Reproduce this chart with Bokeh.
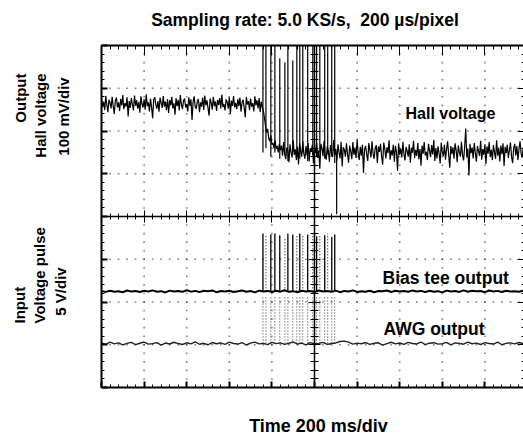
import numpy as np
from bokeh.plotting import figure
from bokeh.models import Range1d, LinearAxis, SingleIntervalTicker, CustomJSTickFormatter
from bokeh.core.properties import value
from bokeh.embed import file_html
from bokeh.resources import INLINE

# ---------------- data ----------------
# time axis: 200 ms/div, 10 divisions; Hall channel 100 mV/div, pulse channel 5 V/div
hall_step_ms = 5
hall_mv = [
    276, 256, 269, 249, 282, 261, 244, 273, 266, 253, 280, 258, 240, 271, 278, 255, 267, 247, 275, 260,
    284, 251, 265, 257, 279, 234, 270, 254, 277, 262, 248, 283, 259, 272, 252, 268, 243, 281, 263, 255,
    274, 250, 286, 258, 267, 246, 276, 256, 230, 273, 279, 261, 252, 270, 245, 278, 266, 254, 282, 257,
    269, 249, 275, 242, 272, 260, 280, 253, 265, 238, 277, 258, 273, 248, 284, 262, 251, 271, 276, 255,
    263, 246, 279, 259, 274, 226, 268, 281, 256, 252, 270, 275, 244, 267, 257, 278, 249, 283, 260, 272,
    254, 236, 276, 266, 250, 280, 258, 269, 247, 273, 261, 277, 253, 285, 256, 263, 248, 274, 268, 252,
    279, 240, 271, 259, 282, 255, 266, 251, 275, 258, 278, 245, 267, 273, 254, 232, 280, 262, 270, 249,
    276, 257, 265, 246, 281, 260, 272, 253, 277, 244, 269, 255,
    248, 230, 212, 196, 205, 183, 176, 190, 168, 172, 160, 178, 158, 165, 150, 170, 155,
    166, 142, 174, 146, 134, 161, 155, 127, 169, 150, 138, 178, 144, 157, 132, 163, 122, 171, 153, 140,
    176, 147, 135, 165, 143, 172, 129, 159, 151, 168, 124, 162, 148, 173, 137, 155, 112, 170, 160, 141,
    177, 145, 133, 164, 154, 128, 167, 149, 139, 179, 143, 158, 131, 169, 150, 136, 175, 117, 162, 156,
    140, 171, 146, 126, 166, 153, 134, 174, 144, 161, 137, 180, 149, 132, 163, 142, 168, 102, 157, 165,
    145, 130, 172, 154, 138, 176, 147, 135, 160, 167, 125, 164, 151, 170, 141, 121, 173, 158, 136, 162,
    148, 178, 133, 155, 143, 168, 128, 165, 150, 107, 171, 144, 159, 138, 175, 146, 131, 163, 153, 140,
    169, 126, 161, 149, 177, 137, 156, 142, 172, 134, 158, 119, 166, 147, 174, 143, 151, 132, 170, 154,
    139, 167, 145, 179, 130, 160, 136, 164, 148, 124, 173, 150, 141, 168, 133, 157, 176, 144, 114, 165,
    146, 162, 135, 171, 155, 127, 166, 151, 140, 175, 143, 131, 163, 206, 138, 159, 96, 170, 148, 161,
    136, 172, 149, 128, 165, 153, 142, 177, 133, 158, 144, 169, 123, 164, 147, 174, 139, 156, 132, 167,
    150, 135, 178, 142, 161, 129, 166, 146, 171, 118, 163, 148, 168, 137, 155, 173, 140, 125, 160, 170,
    143, 165, 132, 158, 176, 147, 138, 162, 151, 169, 141, 160,
]

pulse_step_ms = 20
bias_tee_v = [
    -8.70, -8.82, -8.68, -8.79, -8.74, -8.86, -8.66, -8.77, -8.71, -8.83,
    -8.69, -8.78, -8.64, -8.80, -8.73, -8.88, -8.67, -8.76, -8.72, -8.81,
    -8.62, -8.79, -8.70, -8.84, -8.68, -8.75, -8.66, -8.85, -8.71, -8.78,
    -8.69, -8.82, -8.74, -8.65, -8.80, -8.72, -8.87, -8.67, -8.77, -8.70,
    -8.83, -8.68, -8.79, -8.63, -8.81, -8.73, -8.86, -8.69, -8.76, -8.71,
    -8.84, -8.66, -8.78, -8.72, -8.80, -8.67, -8.85, -8.70, -8.77, -8.64,
    -8.82, -8.73, -8.79, -8.68, -8.86, -8.71, -8.75, -8.66, -8.83, -8.69,
    -8.78, -8.72, -8.81, -8.65, -8.77, -8.70, -8.84, -8.68, -8.79, -8.73,
    -8.87, -8.67, -8.76, -8.71, -8.82, -8.64, -8.80, -8.69, -8.75, -8.72,
    -8.85, -8.66, -8.78, -8.70, -8.83, -8.68, -8.77, -8.73, -8.81, -8.67,
    -8.76,
]
awg_v = [
    -14.80, -14.95, -14.70, -14.90, -14.78, -15.02, -14.84, -14.72, -14.98, -14.82,
    -14.68, -14.93, -14.87, -14.75, -15.05, -14.80, -14.91, -14.71, -14.86, -14.97,
    -14.77, -14.89, -14.66, -14.94, -14.83, -15.00, -14.74, -14.88, -14.79, -14.96,
    -14.70, -14.85, -14.92, -14.76, -15.03, -14.81, -14.69, -14.90, -14.84, -14.99,
    -14.73, -14.87, -14.78, -14.95, -14.82, -14.67, -14.93, -14.80, -15.01, -14.75,
    -14.89, -14.84, -14.72, -14.97, -14.86, -14.79, -14.62, -14.58, -14.70, -14.92,
    -14.81, -14.88, -14.74, -14.95, -14.83, -14.77, -15.04, -14.86, -14.71, -14.90,
    -14.80, -14.96, -14.73, -14.85, -14.91, -14.68, -14.99, -14.82, -14.76, -14.93,
    -14.87, -14.72, -15.02, -14.79, -14.84, -14.94, -14.70, -14.88, -14.81, -14.97,
    -14.75, -14.86, -14.92, -14.69, -15.00, -14.83, -14.78, -14.90, -14.74, -14.87,
    -14.82,
]

# pulse burst
spike_ms = [758, 772, 795, 814, 837, 861, 875, 898, 917, 931, 945, 968, 992, 1010, 1025, 1048, 1062, 1081, 1095]
hall_spike_top_mv = [400, 400, 400, 400, 370, 360, 400, 365, 400, 400, 400, 400, 400, 400, 400, 400, 400, 400, 400]
hall_spike_bottom_mv = [150, 160, 140, 150, 135, 145, 130, 150, 140, 135, 150, 130, 145, 140, 150, 135, 145, 140, 125]
bias_spike_top_v = [-2.0, -2.3, -2.1, -2.0, -2.2, -2.4, -2.0, -2.1, -2.3, -2.0, -2.2, -2.1, -2.0, -2.3, -2.1, -2.2, -2.0, -2.4, -2.1]
bias_spike_solid = [1, 0, 1, 1, 1, 0, 1, 1, 0, 1, 0, 1, 0, 1, 0, 1, 0, 1, 1]
bias_base_v = -8.75
awg_spike_top_v = [-9.3, -9.4, -9.35, -9.3, -9.45, -9.35, -9.3, -9.4, -9.35, -9.3, -9.4, -9.35, -9.3, -9.45, -9.35, -9.3, -9.4, -9.35, -9.3]
awg_base_v = -14.85
glitch_ms = [1104]
glitch_top_mv = [143]
glitch_bottom_mv = [5]

# scope graticule: 10 x 8 divisions
n_div_x, n_div_y = 10, 8
ms_per_div, v_per_div, mv_per_div = 200, 5, 100

# ---------------- geometry (pixels) ----------------
W, H = 523, 446
LEFT, TOP = 101, 45          # screen frame top-left corner in the picture
DIVX, DIVY = 42.6, 42.75     # pixels per division
CY = TOP + DIVY * n_div_y / 2


def sx(px):  # pixel -> ms
    return (px - LEFT) * ms_per_div / DIVX


def sy(py):  # pixel -> V on pulse channel
    return (CY - py) * v_per_div / DIVY


p = figure(width=W, height=H, output_backend="svg", toolbar_location=None,
           x_range=Range1d(sx(0), sx(W)), y_range=Range1d(sy(H), sy(0)),
           x_axis_location=None, y_axis_location=None,
           min_border=0, min_border_left=0, min_border_right=0, min_border_top=0, min_border_bottom=0,
           outline_line_color=None, background_fill_color="white", border_fill_color="white")
p.extra_y_ranges = {"hall": Range1d(sy(H) * mv_per_div / v_per_div, sy(0) * mv_per_div / v_per_div)}
p.grid.visible = False

t_end = n_div_x * ms_per_div
v_top = n_div_y / 2 * v_per_div

# graticule dots along the division lines
major_x = np.arange(1, n_div_x) * ms_per_div
major_y = (np.arange(1, n_div_y) - n_div_y / 2) * v_per_div
minor_x = np.arange(0, n_div_x * 5 + 1) * ms_per_div / 5
minor_y = np.arange(-n_div_y * 5 // 2, n_div_y * 5 // 2 + 1) * v_per_div / 5
gx1, gy1 = np.meshgrid(major_x, minor_y)
gx2, gy2 = np.meshgrid(minor_x, major_y)
p.scatter(np.concatenate([gx1.ravel(), gx2.ravel()]), np.concatenate([gy1.ravel(), gy2.ravel()]),
          marker="square", size=1.6, line_width=0, fill_color="black", fill_alpha=0.5)

hall_t = np.arange(len(hall_mv)) * hall_step_ms
pulse_t = np.arange(len(bias_tee_v)) * pulse_step_ms

# traces
p.line(hall_t, hall_mv, y_range_name="hall", line_color="black", line_width=1.2)
p.line(pulse_t, bias_tee_v, line_color="black", line_width=2)
p.line(pulse_t, awg_v, line_color="#222222", line_width=1.4)

# burst spikes
p.segment(x0=spike_ms, y0=hall_spike_bottom_mv, x1=spike_ms, y1=hall_spike_top_mv,
          y_range_name="hall", line_color="black", line_width=1.2)
p.segment(x0=glitch_ms, y0=glitch_bottom_mv, x1=glitch_ms, y1=glitch_top_mv,
          y_range_name="hall", line_color="black", line_width=1.2)
solid_t = [t for t, s in zip(spike_ms, bias_spike_solid) if s]
solid_top = [v for v, s in zip(bias_spike_top_v, bias_spike_solid) if s]
dot_t = [t for t, s in zip(spike_ms, bias_spike_solid) if not s]
dot_top = [v for v, s in zip(bias_spike_top_v, bias_spike_solid) if not s]
p.segment(x0=solid_t, y0=[bias_base_v] * len(solid_t), x1=solid_t, y1=solid_top,
          line_color="black", line_width=1.3)
p.segment(x0=dot_t, y0=[bias_base_v] * len(dot_t), x1=dot_t, y1=dot_top,
          line_color="black", line_width=1, line_dash="1 2")
p.segment(x0=spike_ms, y0=[awg_base_v] * len(spike_ms), x1=spike_ms, y1=awg_spike_top_v,
          line_color="#333333", line_width=1, line_dash="1 2")


# ---------------- graticule frame and centre cross (axes at fixed locations) ----------------
def xt():
    return SingleIntervalTicker(interval=ms_per_div, num_minor_ticks=5)


def yt():
    return SingleIntervalTicker(interval=v_per_div, num_minor_ticks=5)


def mk_axis(ticker, **kw):
    ax = LinearAxis(ticker=ticker, formatter=CustomJSTickFormatter(code="return ''"),
                    major_label_text_font_size="0px", major_label_standoff=0,
                    major_tick_out=0, minor_tick_out=0, axis_line_color="black",
                    major_tick_line_color="black", minor_tick_line_color="black")
    for k, v in kw.items():
        setattr(ax, k, v)
    return ax


p.add_layout(mk_axis(xt(), fixed_location=v_top, bounds=(0, t_end), major_tick_in=10, minor_tick_in=4,
                     axis_line_width=2), "above")
p.add_layout(mk_axis(xt(), fixed_location=-v_top, bounds=(0, t_end), major_tick_in=6, minor_tick_in=3,
                     axis_line_width=2, major_tick_line_width=2), "below")
p.add_layout(mk_axis(yt(), fixed_location=0, bounds=(-v_top, v_top), major_tick_in=6, minor_tick_in=3,
                     axis_line_width=2, major_tick_line_width=2), "left")
p.add_layout(mk_axis(yt(), fixed_location=t_end, bounds=(-v_top, v_top), major_tick_in=10,
                     minor_tick_in=6, axis_line_width=2), "right")
p.add_layout(mk_axis(xt(), fixed_location=0, bounds=(0, t_end), major_tick_in=6, major_tick_out=6,
                     minor_tick_in=3, minor_tick_out=3, axis_line_width=1.5), "below")
p.add_layout(mk_axis(yt(), fixed_location=t_end / 2, bounds=(-v_top, v_top), major_tick_in=6,
                     major_tick_out=6, minor_tick_in=4, minor_tick_out=4, axis_line_width=1.5), "left")

# ---------------- texts ----------------
FONT = "Liberation Sans"


def txt(text, px, py, size, align="left", angle=0.0):
    p.text(x=[sx(px)], y=[sy(py)], text=[text], text_font=value(FONT), text_font_style=value("bold"),
           text_font_size=value(size), text_align=value(align), text_baseline=value("middle"),
           angle=angle, text_color="black")


txt("Sampling rate: 5.0 KS/s,\u00a0 200 \u00b5s/pixel", 304.5, 19, "17.5px", "center")
txt("Hall voltage", 405, 113, "16px")
txt("Bias tee output", 382, 277, "17.5px")
txt("AWG output", 383, 328, "17.5px")
txt("Time 200 ms/div", 318, 425, "18px", "center")
txt("Output", 20, 73, "15px", "right", np.pi / 2)
txt("Hall voltage", 40, 73, "15px", "right", np.pi / 2)
txt("100 mV/div", 63, 116, "15px", "center", np.pi / 2)
txt("Input", 19, 323, "15px", "left", np.pi / 2)
txt("Voltage pulse", 39, 323, "15px", "left", np.pi / 2)
txt("5 V/div", 60, 291, "15px", "center", np.pi / 2)

open("out.html", "w").write(file_html(p, INLINE))
